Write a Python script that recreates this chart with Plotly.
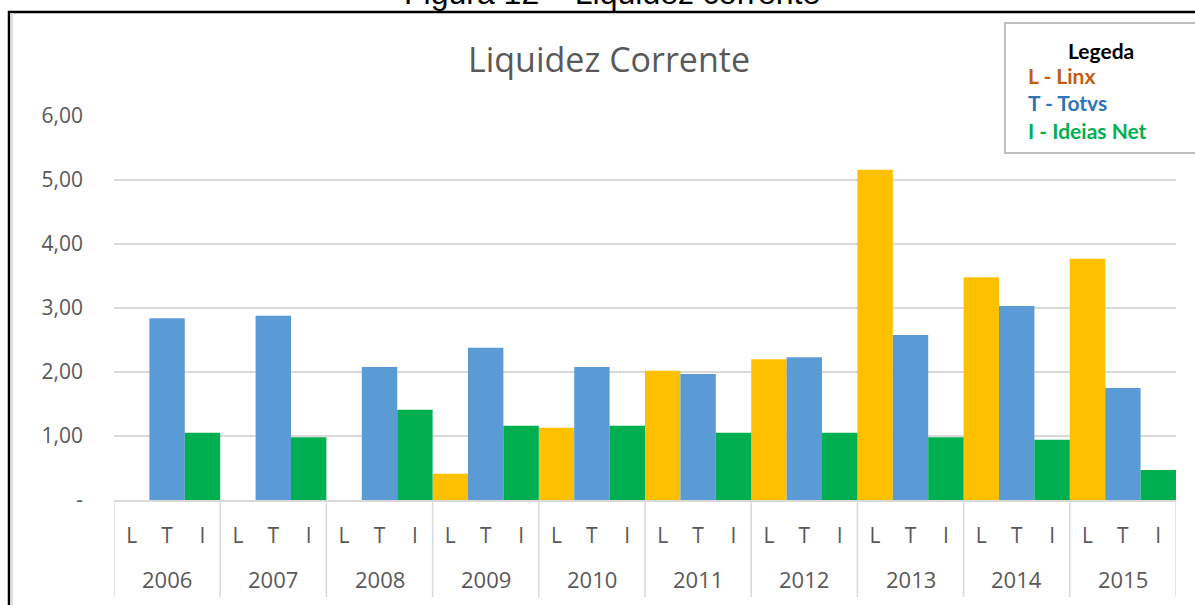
import plotly.graph_objects as go

# values (Liquidez Corrente)
years = ["2006", "2007", "2008", "2009", "2010", "2011", "2012", "2013", "2014", "2015"]
letters = ["L", "T", "I"]
linx = [None, None, None, 0.41, 1.13, 2.02, 2.20, 5.16, 3.48, 3.77]
totvs = [2.84, 2.88, 2.08, 2.38, 2.08, 1.97, 2.23, 2.58, 3.03, 1.75]
ideias = [1.05, 0.98, 1.41, 1.16, 1.16, 1.05, 1.05, 0.98, 0.94, 0.47]
y_ticks = [0, 1, 2, 3, 4, 5, 6]
y_ticktext = ["-", "1,00", "2,00", "3,00", "4,00", "5,00", "6,00"]

colors = ["#FFC000", "#5B9BD5", "#00B050"]
series = [linx, totvs, ideias]

FONT = "Open Sans"
GREY = "#595959"
LINE = "#D9D9D9"

# plot area in page pixels: x 114..1176, y 116..500
def px(x):
    return (x - 114) / 1062

def py(y):
    return (500 - y) / 384

fig = go.Figure()
for j, let in enumerate(letters):
    pos = [i * 3 + j for i in range(len(years))]
    fig.add_trace(go.Bar(x=pos, y=series[j], width=1, name=let,
                         marker=dict(color=colors[j], line=dict(width=0)), showlegend=False))

fig.update_layout(
    width=1195, height=605,
    margin=dict(l=114, r=19, t=116, b=105),
    paper_bgcolor="white", plot_bgcolor="white",
    barmode="overlay",
    font=dict(family=FONT, color=GREY),
    title=dict(text="Liquidez Corrente", x=px(609), xref="paper", xanchor="center",
               y=1 - 60 / 605, yanchor="middle",
               font=dict(family=FONT, size=34, color=GREY)),
)
fig.update_yaxes(range=[0, 6], tickvals=y_ticks, ticktext=y_ticktext, showgrid=True,
                 gridcolor=LINE, gridwidth=1.5, zeroline=False, showline=False,
                 tickfont=dict(size=21, color=GREY), ticks="", ticklabelstandoff=30)
all_pos = [i * 3 + j for i in range(len(years)) for j in range(3)]
fig.update_xaxes(range=[-0.5, len(years) * 3 - 0.5], tickvals=all_pos,
                 ticktext=letters * len(years), showline=True, linecolor=LINE, linewidth=2,
                 tickfont=dict(size=21, color=GREY), ticks="", showgrid=False, zeroline=False,
                 ticklabelstandoff=16)

# group dividers and year labels below the axis
for k in range(len(years) + 1):
    fig.add_shape(type="line", xref="x", yref="paper", x0=k * 3 - 0.5, x1=k * 3 - 0.5,
                  y0=0, y1=py(597), line=dict(color=LINE, width=1.5))
for i, yr in enumerate(years):
    fig.add_annotation(text=yr, xref="x", yref="paper", x=i * 3 + 1, y=py(579),
                       yanchor="middle", showarrow=False, font=dict(family=FONT, size=22, color=GREY))

# outer frame lines of the page
fig.add_shape(type="line", xref="paper", yref="paper", x0=px(8), x1=px(1200), y0=py(12),
              y1=py(12), line=dict(color="black", width=2.5))
fig.add_shape(type="line", xref="paper", yref="paper", x0=px(9), x1=px(9),
              y0=py(11), y1=py(610), line=dict(color="black", width=2.5))
fig.add_shape(type="line", xref="paper", yref="paper", x0=px(11.5), x1=px(11.5),
              y0=py(13), y1=py(610), line=dict(color=LINE, width=2.5))

# figure caption, cut at the top of the page
fig.add_annotation(text="Figura 12 – Liquidez corrente", xref="paper", yref="paper",
                   x=px(612), y=py(13), xanchor="center", yanchor="bottom",
                   showarrow=False, font=dict(family="Liberation Sans", size=32, color="black"))

# legend box
fig.add_shape(type="rect", xref="paper", yref="paper", x0=px(1005), x1=px(1200),
              y0=py(153), y1=py(23), fillcolor="white",
              line=dict(color="#BFBFBF", width=2), layer="above")
leg_lines = [("<b>Legeda</b>", "black", 1101, 50, "center"),
             ("<b>L - Linx</b>", "#C55A11", 1026, 76, "left"),
             ("<b>T - Totvs</b>", "#2E75B6", 1026, 103, "left"),
             ("<b>I - Ideias Net</b>", "#00B050", 1026, 130, "left")]
for txt, col, lx, ly, anc in leg_lines:
    fig.add_annotation(text=txt, xref="paper", yref="paper", x=px(lx), y=py(ly),
                       xanchor=anc, yanchor="middle", showarrow=False,
                       font=dict(family="Lato", size=21, color=col))

fig.write_html("out.html", config={"displayModeBar": False},
               post_script="document.body.style.margin='0';")
